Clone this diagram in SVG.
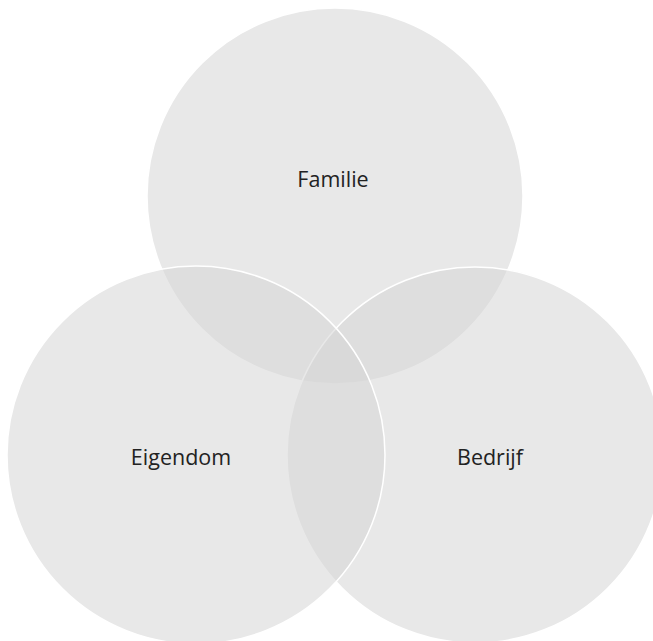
<svg xmlns="http://www.w3.org/2000/svg" width="653" height="641" viewBox="0 0 653 641">
<style>
.c{fill:#d6d6d6;fill-opacity:0.56;stroke:#ffffff;stroke-width:1.5}
.t{font-family:"Open Sans","Noto Sans",sans-serif;font-size:21.5px;fill:#222222;text-anchor:middle}
</style>
<rect width="653" height="641" fill="#ffffff"/>
<g id="familie">
<circle class="c" cx="335" cy="196" r="188"/>
<text class="t" x="333" y="187">Familie</text>
</g>
<g id="bedrijf">
<circle class="c" cx="475" cy="455" r="188"/>
</g>
<g id="eigendom">
<circle class="c" cx="196" cy="455" r="189"/>
</g>
<g id="labels">
<text class="t" x="181" y="465">Eigendom</text>
<text class="t" x="490" y="465">Bedrijf</text>
</g>
<g id="connectors"/>
</svg>
